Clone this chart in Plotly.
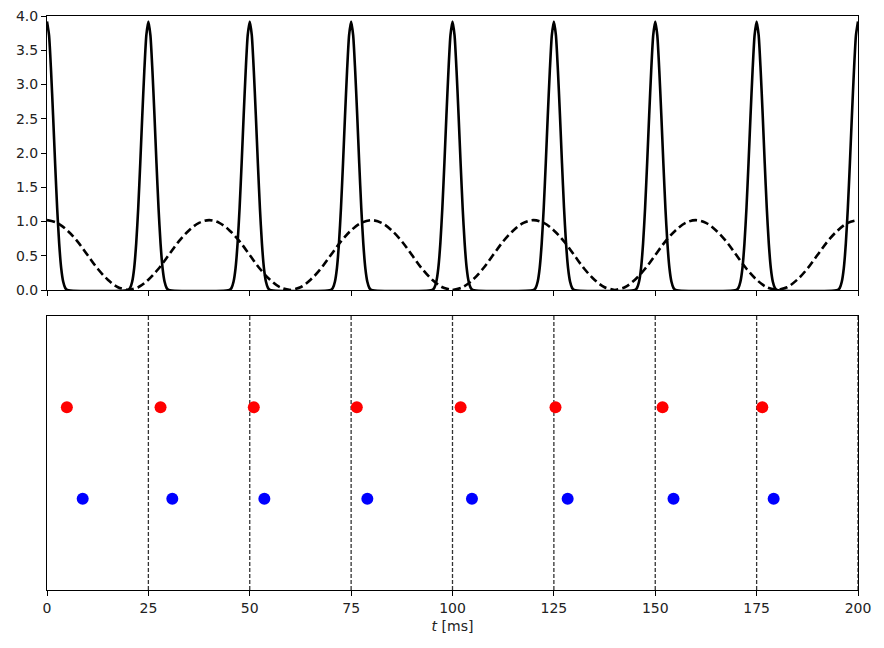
import numpy as np
import plotly.graph_objects as go
from plotly.subplots import make_subplots

# top panel: solid peaks (one peak profile, placed at each peak time)
peak_times = [0, 25, 50, 75, 100, 125, 150, 175, 200]
peak_offsets = [0.0, 0.5, 1.0, 1.5, 2.0, 2.5, 3.0, 3.5, 4.0, 4.5, 5.0]
peak_values = [3.92, 3.72, 3.2, 2.55, 1.85, 1.2, 0.68, 0.32, 0.12, 0.03, 0.0]

# top panel: dashed curve (half period profile from a crest down to a trough)
wave_crests = [0, 40, 80, 120, 160, 200]
wave_offsets = [0.0, 2.5, 5.0, 7.5, 10.0, 12.5, 15.0, 17.5, 20.0]
wave_values = [1.02, 0.98, 0.87, 0.71, 0.51, 0.31, 0.15, 0.04, 0.0]

# bottom panel: spike times
red_times = [4.9, 28.0, 51.0, 76.4, 102.0, 125.4, 151.8, 176.4]
blue_times = [8.8, 30.9, 53.6, 79.0, 104.8, 128.4, 154.5, 179.2]
red_level = 2
blue_level = 1
grid_times = [25, 50, 75, 100, 125, 150, 175, 200]

x_ticks = [0, 25, 50, 75, 100, 125, 150, 175, 200]
y_ticks = [0.0, 0.5, 1.0, 1.5, 2.0, 2.5, 3.0, 3.5, 4.0]


def build_curve(centers, offsets, values, t_min=0, t_max=200):
    """Put a symmetric profile at every center, zero in between."""
    offs = np.array(offsets)
    vals = np.array(values)
    full_off = np.concatenate([-offs[::-1], offs[1:]])
    full_val = np.concatenate([vals[::-1], vals[1:]])
    ts, ys = [], []
    for c in centers:
        t = c + full_off
        keep = (t >= t_min) & (t <= t_max)
        ts.extend(t[keep])
        ys.extend(full_val[keep])
    order = np.argsort(ts, kind="stable")
    return np.array(ts)[order], np.array(ys)[order]


t_peak, y_peak = build_curve(peak_times, peak_offsets, peak_values)
t_wave, y_wave = build_curve(wave_crests, wave_offsets, wave_values)

fig = make_subplots(rows=2, cols=1, shared_xaxes=False, vertical_spacing=26 / 574)

fig.add_trace(
    go.Scatter(
        x=t_peak, y=y_peak, mode="lines",
        line=dict(color="black", width=2.6, shape="spline", smoothing=0.6),
        showlegend=False,
    ),
    row=1, col=1,
)
fig.add_trace(
    go.Scatter(
        x=t_wave, y=y_wave, mode="lines",
        line=dict(color="black", width=2.6, dash="8px,4px", shape="spline"),
        showlegend=False,
    ),
    row=1, col=1,
)

for g in grid_times:
    fig.add_trace(
        go.Scatter(
            x=[g, g], y=[0, 3], mode="lines",
            line=dict(color="#333333", width=1.3, dash="4px,2px"),
            showlegend=False, hoverinfo="skip",
        ),
        row=2, col=1,
    )

fig.add_trace(
    go.Scatter(
        x=red_times, y=[red_level] * len(red_times), mode="markers",
        marker=dict(color="red", size=12), showlegend=False,
    ),
    row=2, col=1,
)
fig.add_trace(
    go.Scatter(
        x=blue_times, y=[blue_level] * len(blue_times), mode="markers",
        marker=dict(color="blue", size=12), showlegend=False,
    ),
    row=2, col=1,
)

axis_style = dict(
    showline=True, linecolor="black", linewidth=1.1, mirror=True,
    showgrid=False, zeroline=False, ticks="outside", ticklen=5,
    tickcolor="black", tickwidth=1.1, automargin=False,
    ticklabeloverflow="allow",
    tickfont=dict(family="DejaVu Sans", size=14, color="#222"),
)

fig.update_xaxes(axis_style)
fig.update_yaxes(axis_style)

fig.update_xaxes(range=[0, 200], tickvals=x_ticks, showticklabels=False, row=1, col=1)
fig.update_yaxes(range=[0, 4], tickvals=y_ticks, ticktext=[f"{v:.1f}" for v in y_ticks],
                 row=1, col=1)
fig.update_xaxes(range=[0, 200], tickvals=x_ticks,
                 title=dict(text="<i>t</i> [ms]", standoff=6,
                            font=dict(family="DejaVu Sans", size=14, color="#222")),
                 row=2, col=1)
fig.update_yaxes(range=[0, 3], showticklabels=False, ticks="", row=2, col=1)

fig.update_layout(
    width=868, height=632,
    margin=dict(l=39, r=18, t=8, b=50),
    plot_bgcolor="white", paper_bgcolor="white",
    font=dict(family="DejaVu Sans", size=14, color="#222"),
)

fig.write_html("out.html")
